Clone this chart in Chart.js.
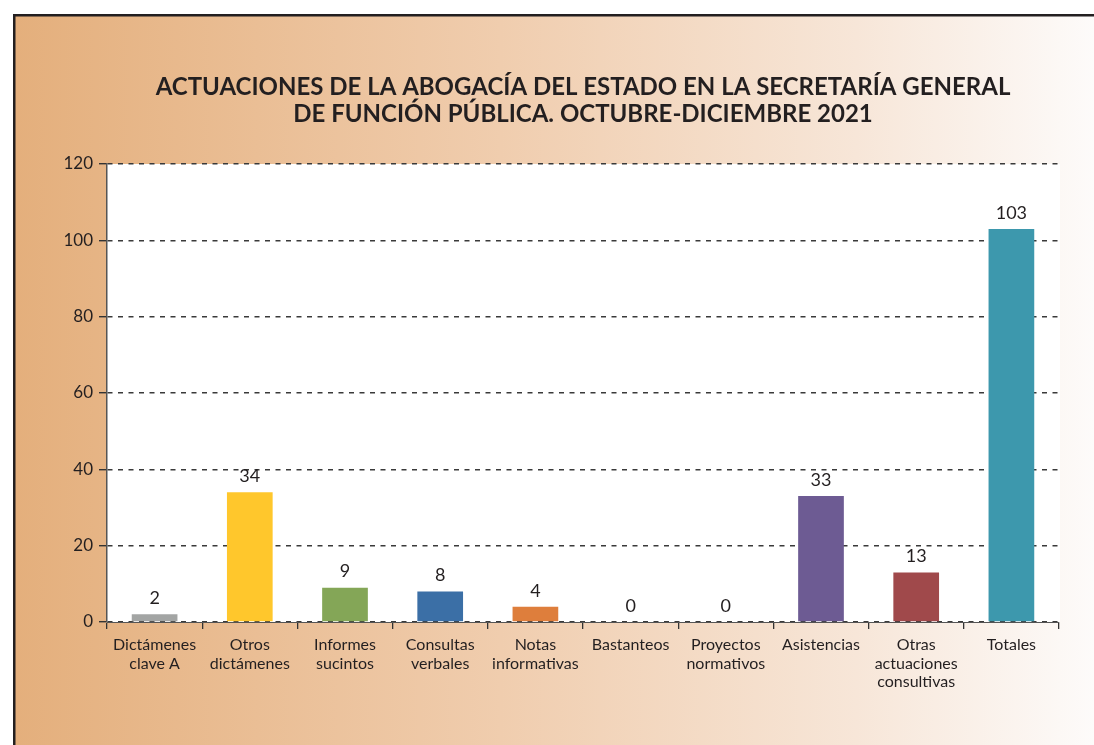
<!DOCTYPE html>
<html>
<head>
<meta charset="utf-8">
<script src="https://cdn.jsdelivr.net/npm/chart.js@4"></script>
<style>
  html, body { margin: 0; padding: 0; background: #fff; }
  #wrap { width: 1094px; height: 745px; }
</style>
</head>
<body>
<div id="wrap"><canvas id="myChart" width="1094" height="745"></canvas></div>
<script>
const categories = [
    ['Dictámenes', 'clave A'],
    ['Otros', 'dictámenes'],
    ['Informes', 'sucintos'],
    ['Consultas', 'verbales'],
    ['Notas', 'informativas'],
    'Bastanteos',
    ['Proyectos', 'normativos'],
    'Asistencias',
    ['Otras', 'actuaciones', 'consultivas'],
    'Totales'
];
const values = [2, 34, 9, 8, 4, 0, 0, 33, 13, 103];
const barColors = ['#A3A5A4', '#FFC72C', '#84A657', '#3B6FA6', '#DE7E3C', '#999999', '#999999', '#6D5B93', '#A0494B', '#3D98AD'];
const titleLines = [
    'ACTUACIONES DE LA ABOGACÍA DEL ESTADO EN LA SECRETARÍA GENERAL',
    'DE FUNCIÓN PÚBLICA. OCTUBRE-DICIEMBRE 2021'
];

const textColor = '#231F20';
const fontFamily = 'Lato, "Open Sans", sans-serif';

// page background: frame + warm gradient, white plot area
const backdrop = {
    id: 'backdrop',
    beforeDraw(chart) {
        const { ctx, width, height, chartArea } = chart;
        ctx.save();
        ctx.fillStyle = '#ffffff';
        ctx.fillRect(0, 0, width, height);
        const g = ctx.createLinearGradient(15, 0, width, 0);
        g.addColorStop(0, '#E4AF7C');
        g.addColorStop(0.45, '#F0CDAE');
        g.addColorStop(0.78, '#F7E6D8');
        g.addColorStop(1, '#FDFBFA');
        ctx.fillStyle = g;
        ctx.fillRect(14, 15, width - 14, height - 15);
        ctx.fillStyle = textColor;
        ctx.fillRect(13, 14, width - 13, 2.5);
        ctx.fillRect(13, 14, 2.5, height - 14);
        ctx.fillStyle = '#ffffff';
        ctx.fillRect(chartArea.left, chartArea.top, chartArea.right - chartArea.left + 1, chartArea.bottom - chartArea.top);
        ctx.restore();
    }
};

// numbers above the bars
const valueLabels = {
    id: 'valueLabels',
    afterDatasetsDraw(chart) {
        const { ctx } = chart;
        const meta = chart.getDatasetMeta(0);
        ctx.save();
        ctx.font = '18px ' + fontFamily;
        ctx.fillStyle = textColor;
        ctx.textAlign = 'center';
        ctx.textBaseline = 'middle';
        meta.data.forEach((bar, i) => {
            ctx.fillText(String(values[i]), bar.x, bar.y - 16);
        });
        ctx.restore();
    }
};

new Chart(document.getElementById('myChart'), {
    type: 'bar',
    data: {
        labels: categories,
        datasets: [{
            data: values,
            backgroundColor: barColors,
            borderWidth: 0,
            categoryPercentage: 1,
            barPercentage: 0.48
        }]
    },
    options: {
        responsive: false,
        animation: false,
        layout: {
            padding: { left: 0, right: 35, top: 0, bottom: 0 }
        },
        scales: {
            x: {
                afterFit(scale) { scale.height = 123; },
                grid: {
                    offset: true,
                    drawOnChartArea: false,
                    drawTicks: true,
                    tickLength: 7,
                    color: '#333333',
                    lineWidth: 1.3
                },
                border: {
                    display: true,
                    color: '#555555',
                    width: 1
                },
                ticks: {
                    color: textColor,
                    padding: 7,
                    maxRotation: 0,
                    autoSkip: false,
                    font: { size: 16, family: fontFamily, lineHeight: 1.15 }
                }
            },
            y: {
                min: 0,
                max: 120,
                afterFit(scale) { scale.width = 107; },
                ticks: {
                    stepSize: 20,
                    color: textColor,
                    padding: 6,
                    font: { size: 17, family: fontFamily }
                },
                grid: {
                    color: '#3A3A3A',
                    lineWidth: 1.4,
                    tickLength: 8,
                    tickBorderDash: [],
                    tickColor: '#333333'
                },
                border: {
                    display: true,
                    color: '#555555',
                    width: 1.5,
                    dash: [5, 5.5]
                }
            }
        },
        plugins: {
            legend: { display: false },
            tooltip: { enabled: false },
            title: {
                display: true,
                fullSize: false,
                text: titleLines,
                color: textColor,
                font: { size: 24, weight: 'bold', family: fontFamily, lineHeight: 1.125 },
                padding: { top: 74, bottom: 36 }
            }
        }
    },
    plugins: [backdrop, valueLabels]
});
</script>
</body>
</html>
